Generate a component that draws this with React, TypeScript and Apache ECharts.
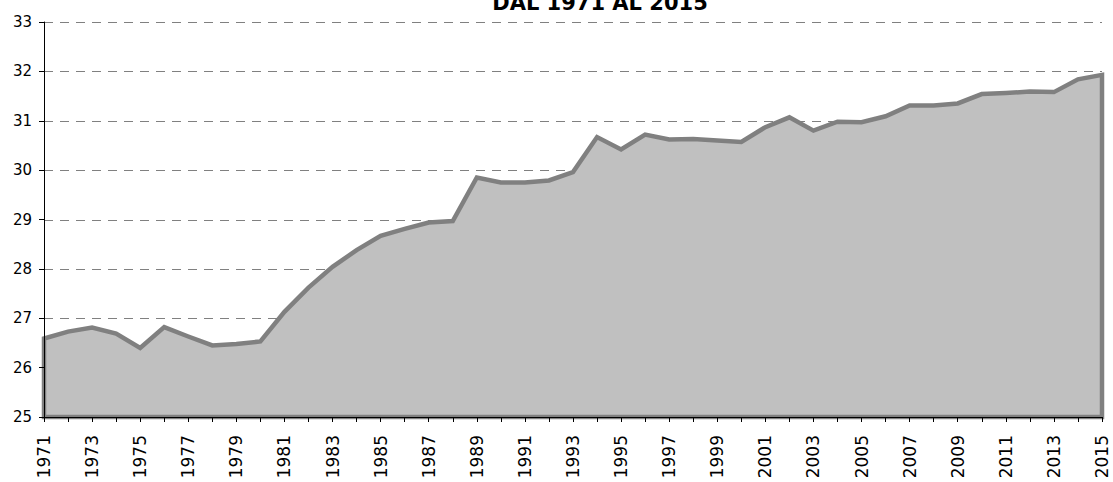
import React, { useEffect, useRef } from "react";
import * as echarts from "echarts";

const years: string[] = [
  "1971","1972","1973","1974","1975","1976","1977","1978","1979","1980",
  "1981","1982","1983","1984","1985","1986","1987","1988","1989","1990",
  "1991","1992","1993","1994","1995","1996","1997","1998","1999","2000",
  "2001","2002","2003","2004","2005","2006","2007","2008","2009","2010",
  "2011","2012","2013","2014","2015",
];

const values: number[] = [
  26.59, 26.73, 26.81, 26.69, 26.40, 26.82, 26.63, 26.45, 26.48, 26.53,
  27.13, 27.62, 28.04, 28.38, 28.67, 28.81, 28.94, 28.97, 29.85, 29.75,
  29.75, 29.79, 29.96, 30.67, 30.42, 30.72, 30.62, 30.63, 30.60, 30.57,
  30.87, 31.07, 30.80, 30.98, 30.97, 31.09, 31.31, 31.31, 31.35, 31.54,
  31.56, 31.59, 31.58, 31.84, 31.93,
];

const gridValues: number[] = [26, 27, 28, 29, 30, 31, 32, 33];

const titleText = "DAL 1971 AL 2015";
const yMin = 25;
const yMax = 33;
const yStep = 1;

export default function App() {
  const ref = useRef<HTMLDivElement>(null);

  useEffect(() => {
    if (!ref.current) return;
    const chart = echarts.init(ref.current, undefined, { renderer: "svg" });
    chart.setOption({
      animation: false,
      backgroundColor: "#ffffff",
      grid: { left: 44, right: 11, top: 22, bottom: 65, containLabel: false },
      graphic: [
        {
          type: "text",
          x: 600,
          y: 3,
          z: 100,
          style: {
            text: titleText,
            fontFamily: "DejaVu Sans",
            fontWeight: "bold",
            fontSize: 21,
            fill: "#000",
            align: "center",
            verticalAlign: "middle",
            textAlign: "center",
            textVerticalAlign: "middle",
          },
        },
      ],
      xAxis: [
        {
          type: "category",
          data: years,
          boundaryGap: false,
          z: 0,
          axisLine: { show: false },
          axisTick: { show: false },
          axisLabel: {
            interval: 1,
            rotate: 90,
            margin: 18,
            color: "#000",
            fontFamily: "DejaVu Sans",
            fontSize: 17,
          },
          splitLine: { show: false },
        },
        {
          type: "category",
          data: years,
          boundaryGap: false,
          position: "bottom",
          z: 50,
          axisLine: { show: true, lineStyle: { color: "#000", width: 1 } },
          axisTick: { show: true, interval: 0, length: 5, lineStyle: { color: "#000" } },
          axisLabel: { show: false },
          splitLine: { show: false },
        },
      ],
      yAxis: [
        {
          type: "value",
          min: yMin,
          max: yMax,
          interval: yStep,
          z: 0,
          axisLine: { show: false },
          axisTick: { show: false },
          axisLabel: {
            margin: 12,
            color: "#000",
            fontFamily: "DejaVu Sans",
            fontSize: 15,
          },
          splitLine: { show: false },
        },
        {
          type: "value",
          min: yMin,
          max: yMax,
          interval: yStep,
          position: "left",
          z: 50,
          axisLine: { show: true, lineStyle: { color: "#000", width: 1 } },
          axisTick: { show: true, length: 5, lineStyle: { color: "#000" } },
          axisLabel: { show: false },
          splitLine: { show: false },
        },
      ],
      series: [
        {
          type: "custom",
          name: "area",
          xAxisIndex: 0,
          yAxisIndex: 0,
          z: 10,
          data: values.map((v, i) => [i, v]),
          encode: { x: 0, y: 1 },
          renderItem: (params: any, api: any) => {
            if (params.dataIndex !== 0) return null;
            const lastIdx = values.length - 1;
            const children: any[] = gridValues.map((g) => {
              const a = api.coord([0, g]);
              const b = api.coord([lastIdx, g]);
              const y = Math.round(a[1]) + 0.5;
              return {
                type: "line",
                z2: 1,
                shape: { x1: a[0], y1: y, x2: b[0], y2: y },
                style: { stroke: "#808080", lineWidth: 1, lineDash: [9, 7], fill: null },
              };
            });
            const pts: number[][] = [api.coord([0, yMin])];
            values.forEach((v, i) => pts.push(api.coord([i, v])));
            pts.push(api.coord([lastIdx, yMin]));
            children.push({
              type: "polygon",
              z2: 10,
              shape: { points: pts },
              style: {
                fill: "#c0c0c0",
                stroke: "#808080",
                lineWidth: 4.5,
                lineJoin: "miter",
              },
            });
            return { type: "group", children };
          },
        },
      ],
    });
    return () => chart.dispose();
  }, []);

  return (
    <div
      ref={ref}
      style={{
        position: "fixed",
        left: 0,
        top: 0,
        width: 1113,
        height: 482,
        overflow: "hidden",
      }}
    />
  );
}
